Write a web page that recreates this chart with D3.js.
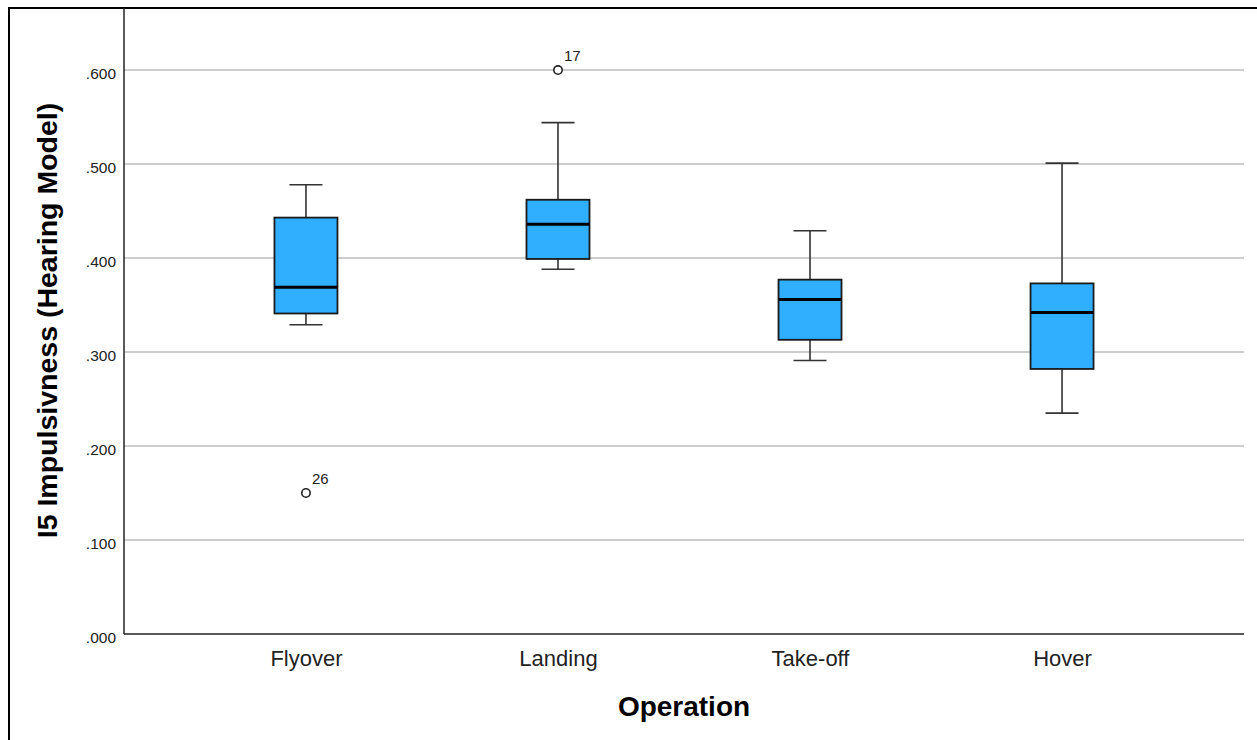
<!DOCTYPE html>
<html>
<head>
<meta charset="utf-8">
<script src="https://cdn.jsdelivr.net/npm/d3@7/dist/d3.min.js"></script>
<style>
  html, body { margin: 0; padding: 0; background: #fff; }
  svg { display: block; }
  text { font-family: "Liberation Sans", Arial, sans-serif; }
</style>
</head>
<body>
<svg id="chart" width="1257" height="740"></svg>
<script>
const categories = ["Flyover", "Landing", "Take-off", "Hover"];
const whiskerLow  = [0.329, 0.388, 0.291, 0.235];
const q1          = [0.341, 0.399, 0.313, 0.282];
const median      = [0.369, 0.436, 0.356, 0.342];
const q3          = [0.443, 0.462, 0.377, 0.373];
const whiskerHigh = [0.478, 0.544, 0.429, 0.501];
const outlierCats   = ["Flyover", "Landing"];
const outlierValues = [0.150, 0.600];
const outlierLabels = ["26", "17"];
const yTicks = [0, 0.1, 0.2, 0.3, 0.4, 0.5, 0.6];
const xTitle = "Operation";
const yTitle = "I5 Impulsivness (Hearing Model)";

const svg = d3.select("#chart");
const L = 124, R = 1244, T = 8, B = 634;

const x = d3.scalePoint().domain(categories).range([L, R]).padding(0.722);
const y = d3.scaleLinear().domain([0, 0.666]).range([B, T]);

// outer frame
svg.append("line").attr("x1", 9).attr("x2", 1257).attr("y1", 8).attr("y2", 8)
  .attr("stroke", "#000").attr("stroke-width", 2);
svg.append("line").attr("x1", 9).attr("x2", 9).attr("y1", 7).attr("y2", 740)
  .attr("stroke", "#000").attr("stroke-width", 2);

// gridlines
svg.append("g").selectAll("line").data(yTicks.filter(d => d > 0)).join("line")
  .attr("x1", L).attr("x2", R)
  .attr("y1", d => y(d)).attr("y2", d => y(d))
  .attr("stroke", "#bdbdbd").attr("stroke-width", 1.5);

// y axis
const fmt = d => d3.format(".3f")(d).replace(/^0/, "");
const yAxis = svg.append("g").attr("transform", `translate(${L},0)`)
  .call(d3.axisLeft(y).tickValues(yTicks).tickFormat(fmt).tickSize(0).tickPadding(8));
yAxis.select(".domain").attr("stroke", "#222").attr("stroke-width", 1.5)
  .attr("d", `M0,${T}V${B}`);
yAxis.selectAll("text").attr("font-size", 15.5).attr("fill", "#222")
  .attr("dy", "0.56em").attr("font-family", "Liberation Sans, Arial, sans-serif");

// x axis
const xAxis = svg.append("g").attr("transform", `translate(0,${B})`)
  .call(d3.axisBottom(x).tickSize(0).tickPadding(0));
xAxis.select(".domain").attr("stroke", "#222").attr("stroke-width", 1.5)
  .attr("d", `M${L},0H${R}`);
xAxis.selectAll("text").attr("font-size", 22).attr("fill", "#222")
  .attr("dy", 0).attr("y", 32).attr("font-family", "Liberation Sans, Arial, sans-serif");

// boxes
const boxW = 63, capW = 33;
const g = svg.append("g");
categories.forEach((c, i) => {
  const cx = x(c);
  g.append("line").attr("x1", cx).attr("x2", cx).attr("y1", y(q3[i])).attr("y2", y(whiskerHigh[i]))
    .attr("stroke", "#333").attr("stroke-width", 1.6);
  g.append("line").attr("x1", cx).attr("x2", cx).attr("y1", y(q1[i])).attr("y2", y(whiskerLow[i]))
    .attr("stroke", "#333").attr("stroke-width", 1.6);
  g.append("line").attr("x1", cx - capW / 2).attr("x2", cx + capW / 2)
    .attr("y1", y(whiskerHigh[i])).attr("y2", y(whiskerHigh[i]))
    .attr("stroke", "#333").attr("stroke-width", 1.6);
  g.append("line").attr("x1", cx - capW / 2).attr("x2", cx + capW / 2)
    .attr("y1", y(whiskerLow[i])).attr("y2", y(whiskerLow[i]))
    .attr("stroke", "#333").attr("stroke-width", 1.6);
  g.append("rect").attr("x", cx - boxW / 2).attr("width", boxW)
    .attr("y", y(q3[i])).attr("height", y(q1[i]) - y(q3[i]))
    .attr("fill", "#30AEFF").attr("stroke", "#1a1a1a").attr("stroke-width", 1.8);
  g.append("line").attr("x1", cx - boxW / 2).attr("x2", cx + boxW / 2)
    .attr("y1", y(median[i])).attr("y2", y(median[i]))
    .attr("stroke", "#000").attr("stroke-width", 3);
});

// outliers
outlierCats.forEach((c, i) => {
  const cx = x(c), cy = y(outlierValues[i]);
  g.append("circle").attr("cx", cx).attr("cy", cy).attr("r", 4.2)
    .attr("fill", "#fff").attr("stroke", "#222").attr("stroke-width", 1.6);
  g.append("text").attr("x", cx + 6).attr("y", cy - 9.5)
    .attr("font-size", 15).attr("fill", "#222").text(outlierLabels[i]);
});

// titles
svg.append("text").attr("x", (L + R) / 2).attr("y", 716)
  .attr("text-anchor", "middle").attr("font-size", 28).attr("font-weight", "bold")
  .attr("fill", "#000").text(xTitle);
svg.append("text").attr("transform", `translate(57,${(T + B) / 2 - 0.5}) rotate(-90)`)
  .attr("text-anchor", "middle").attr("font-size", 28.5).attr("font-weight", "bold")
  .attr("fill", "#000").text(yTitle);
</script>
</body>
</html>
